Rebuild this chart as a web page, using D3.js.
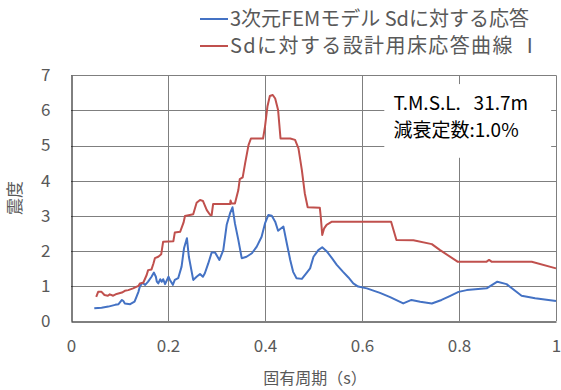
<!DOCTYPE html>
<html><head><meta charset="utf-8">
<script src="https://cdn.jsdelivr.net/npm/d3@7"></script>
<style>body{margin:0;background:#fff}svg{display:block}text{font-family:"Noto Sans CJK JP","Noto Sans",sans-serif;fill:#595959;white-space:pre}</style>
</head><body><svg id="c" width="561" height="390"></svg>
<script>
const xTicks = [0, 0.2, 0.4, 0.6, 0.8, 1];
const xTickLabels = ["0", "0.2", "0.4", "0.6", "0.8", "1"];
const yTicks = [0, 1, 2, 3, 4, 5, 6, 7];
const seriesNames = ["3次元FEMモデル Sdに対する応答", "Sdに対する設計用床応答曲線 Ⅰ"];
const xTitle = "固有周期（s）";
const yTitle = "震度";
const noteLines = ["T.M.S.L.   31.7m", "減衰定数:1.0%"];

const blueX = [0.048,0.063,0.077,0.091,0.098,0.105,0.108,0.111,0.122,0.131,0.135,0.139,0.142,0.147,0.153,0.159,0.166,0.171,0.175,0.177,0.180,0.184,0.187,0.190,0.194,0.201,0.204,0.210,0.214,0.221,0.228,0.233,0.239,0.243,0.252,0.259,0.266,0.272,0.276,0.283,0.290,0.297,0.306,0.314,0.321,0.328,0.333,0.338,0.345,0.352,0.362,0.373,0.383,0.393,0.400,0.407,0.414,0.421,0.427,0.438,0.445,0.452,0.458,0.465,0.476,0.485,0.493,0.500,0.510,0.518,0.527,0.538,0.548,0.561,0.572,0.582,0.592,0.610,0.637,0.658,0.685,0.702,0.720,0.744,0.764,0.781,0.799,0.816,0.857,0.879,0.898,0.929,0.957,1.000];
const blueY = [0.36,0.38,0.41,0.46,0.48,0.60,0.57,0.50,0.48,0.55,0.69,0.83,0.98,1.09,1.03,1.12,1.26,1.38,1.26,1.12,1.07,1.19,1.12,1.19,1.05,1.26,1.17,1.03,1.17,1.22,1.55,2.07,2.36,1.83,1.17,1.26,1.34,1.26,1.36,1.64,1.95,1.95,1.74,2.02,2.74,3.07,3.24,2.78,2.31,1.79,1.83,1.93,2.12,2.40,2.78,3.02,3.00,2.83,2.57,2.69,2.21,1.74,1.40,1.22,1.20,1.36,1.50,1.83,2.02,2.10,1.99,1.79,1.60,1.40,1.24,1.07,0.98,0.93,0.80,0.68,0.50,0.60,0.55,0.50,0.60,0.71,0.83,0.88,0.93,1.12,1.05,0.72,0.65,0.57];

const redX = [0.052,0.056,0.063,0.069,0.076,0.080,0.087,0.094,0.105,0.111,0.118,0.128,0.139,0.142,0.149,0.156,0.159,0.166,0.170,0.173,0.180,0.186,0.190,0.211,0.214,0.225,0.232,0.235,0.252,0.259,0.266,0.272,0.280,0.287,0.290,0.293,0.328,0.329,0.331,0.338,0.345,0.348,0.354,0.359,0.366,0.371,0.396,0.400,0.405,0.410,0.416,0.421,0.427,0.432,0.452,0.462,0.469,0.476,0.482,0.488,0.513,0.515,0.518,0.522,0.527,0.538,0.660,0.671,0.706,0.744,0.761,0.797,0.857,0.862,0.867,0.950,1.000];
const redY = [0.69,0.83,0.83,0.74,0.72,0.76,0.72,0.77,0.81,0.86,0.88,0.93,1.00,1.07,1.09,1.31,1.45,1.47,1.64,1.79,1.83,1.90,2.26,2.27,2.52,2.54,2.80,2.99,3.04,3.37,3.45,3.42,3.16,3.02,3.02,3.33,3.33,3.43,3.35,3.35,3.73,4.04,4.09,4.49,5.01,5.20,5.20,5.54,6.11,6.41,6.44,6.34,6.01,5.20,5.20,5.16,4.92,4.30,3.64,3.24,3.23,2.97,2.45,2.64,2.74,2.83,2.83,2.31,2.30,2.19,2.02,1.69,1.69,1.74,1.69,1.69,1.50];

const colors = ["#4472C4", "#C0504D"];
const svg = d3.select("#c");
const x = d3.scaleLinear().domain([0, 1]).range([71, 556]);
const y = d3.scaleLinear().domain([0, 7]).range([321, 75.3]);

// gridlines
svg.append("g").selectAll("line").data(yTicks.filter(d => d > 0)).join("line")
  .attr("x1", x(0)).attr("x2", x(1)).attr("y1", d => Math.round(y(d)) + 0.5).attr("y2", d => Math.round(y(d)) + 0.5)
  .attr("stroke", "#7f7f7f").attr("stroke-width", 1);
svg.append("g").selectAll("line").data(xTicks.filter(d => d > 0)).join("line")
  .attr("y1", y(0)).attr("y2", y(7)).attr("x1", d => Math.round(x(d)) + 0.5).attr("x2", d => Math.round(x(d)) + 0.5)
  .attr("stroke", "#7f7f7f").attr("stroke-width", 1);

// annotation box (covers grid)
const box = svg.append("g");
box.append("rect").attr("x", x(0.646)).attr("y", y(6.75)).attr("width", x(0.99) - x(0.646)).attr("height", y(4.65) - y(6.75)).attr("fill", "#fff");
box.selectAll("text").data(noteLines).join("text")
  .attr("x", x(0.665)).attr("y", (d, i) => 110 + i * 27)
  .attr("font-size", 19).style("fill", "#000").text(d => d);

// axes
const xAxis = svg.append("g").attr("transform", `translate(0,${Math.round(y(0)) + 0.5})`)
  .call(d3.axisBottom(x).tickValues(xTicks).tickFormat((d, i) => xTickLabels[i]).tickSize(0).tickPadding(18));
xAxis.select(".domain").attr("stroke", "#000");
xAxis.selectAll("text").attr("font-size", 17).style("fill", "#595959");

const yAxis = svg.append("g").attr("transform", `translate(${Math.round(x(0)) + 0.5},0)`)
  .call(d3.axisLeft(y).tickValues(yTicks).tickFormat(d3.format("d")).tickSize(0).tickPadding(21));
yAxis.select(".domain").attr("stroke", "#000");
yAxis.selectAll("text").attr("font-size", 17).style("fill", "#595959");

// series
const line = d3.line().x(d => x(d[0])).y(d => y(d[1]));
const blue = blueX.map((v, i) => [v, blueY[i]]);
const red = redX.map((v, i) => [v, redY[i]]);
[blue, red].forEach((s, i) => {
  svg.append("path").datum(s).attr("d", line).attr("fill", "none")
    .attr("stroke", colors[i]).attr("stroke-width", 2).attr("stroke-linejoin", "round");
});

// titles
svg.append("text").attr("x", 315).attr("y", 384).attr("text-anchor", "middle").attr("font-size", 16).text(xTitle);
svg.append("text").attr("transform", "translate(21,198) rotate(-90)").attr("text-anchor", "middle").attr("font-size", 17).text(yTitle);

// legend
const lg = svg.append("g");
seriesNames.forEach((n, i) => {
  const yy = 19 + i * 27;
  lg.append("line").attr("x1", 200).attr("x2", 228).attr("y1", yy).attr("y2", yy).attr("stroke", colors[i]).attr("stroke-width", 2);
  lg.append("text").attr("x", 230).attr("y", yy).attr("dy", "0.35em").attr("font-size", 20)
    .attr("letter-spacing", i === 1 ? 1.4 : 0).text(n);
});
</script></body></html>
